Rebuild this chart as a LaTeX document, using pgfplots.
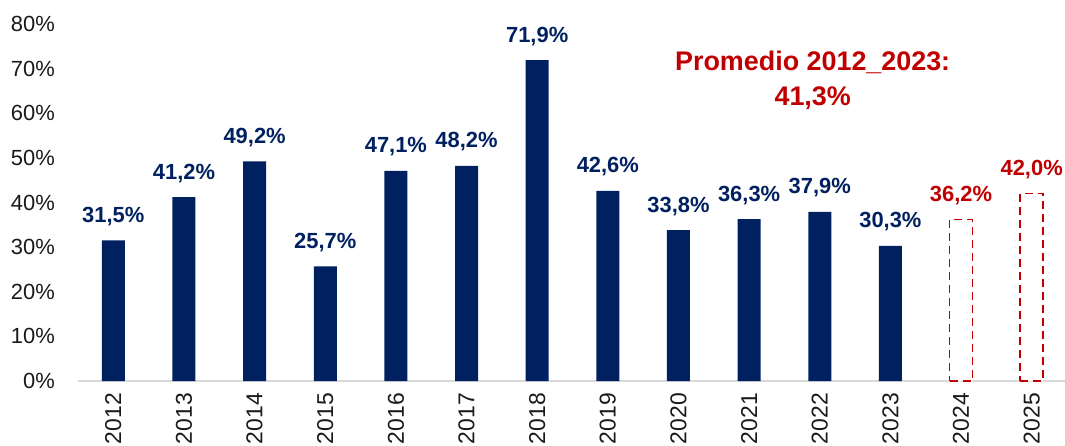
\documentclass[border=0pt]{standalone}
\usepackage{fontspec}
\setmainfont{Liberation Sans}
\usepackage{pgfplots}
\pgfplotsset{compat=1.18}
\definecolor{navy}{HTML}{002060}
\definecolor{dred}{HTML}{C00000}
\begin{document}
\begin{tikzpicture}[x=1bp,y=1bp]
\begin{axis}[
  at={(0bp,0bp)}, anchor=south west,
  scale only axis, width=989bp, height=357bp,
  xmin=-0.5, xmax=13.5, ymin=0, ymax=80,
  ytick={0,10,...,80},
  yticklabel={\pgfmathprintnumber{\tick}\%},
  xtick={0,...,13},
  xticklabels={2012,2013,2014,2015,2016,2017,2018,2019,2020,2021,2022,2023,2024,2025},
  /pgf/number format/assume math mode=true,
  axis x line*=bottom, axis y line*=left,
  x axis line style={draw=black!15, line width=1.2bp, -},
  y axis line style={draw=none},
  major tick length=0pt,
  tick label style={font=\fontsize{22}{26}\selectfont, text=black!90},
  yticklabel style={inner sep=0pt, anchor=east, xshift=-23bp},
  xticklabel style={rotate=90, anchor=east, inner sep=0pt, xshift=-12bp, font=\fontsize{23}{26}\selectfont},
  ybar, bar width=23bp, bar shift=0pt,
  clip=false,
]
\addplot[fill=navy, draw=none,
  nodes near coords={\pgfmathprintnumber[fixed,fixed zerofill,precision=1,use comma]{\pgfplotspointmeta}\%},
  nodes near coords style={font=\bfseries\fontsize{22}{24}\selectfont, text=navy, anchor=base, inner sep=0pt, yshift=18bp},
  point meta=y]
coordinates {(0,31.5) (1,41.2) (2,49.2) (3,25.7) (4,47.1) (5,48.2) (6,71.9) (7,42.6) (8,33.8) (9,36.3) (10,37.9) (11,30.3)};
\addplot[fill=white, draw=dred, line width=1.5bp, dash pattern=on 8bp off 5bp,
  nodes near coords={\pgfmathprintnumber[fixed,fixed zerofill,precision=1,use comma]{\pgfplotspointmeta}\%},
  nodes near coords style={font=\bfseries\fontsize{22}{24}\selectfont, text=dred, anchor=base, inner sep=0pt, yshift=18bp},
  point meta=y]
coordinates {(12,36.2) (13,42.0)};
\node[anchor=base, inner sep=0pt, text=dred, font=\bfseries\fontsize{27}{30}\selectfont] at (axis cs:9.9,69.5) {Promedio 2012\_2023:};
\node[anchor=base, inner sep=0pt, text=dred, font=\bfseries\fontsize{27}{30}\selectfont] at (axis cs:9.9,61.8) {41,3\%};
\end{axis}
\pgfresetboundingbox
\path[use as bounding box] (-78bp,-65bp) rectangle (987bp,381bp);
\end{tikzpicture}
\end{document}
